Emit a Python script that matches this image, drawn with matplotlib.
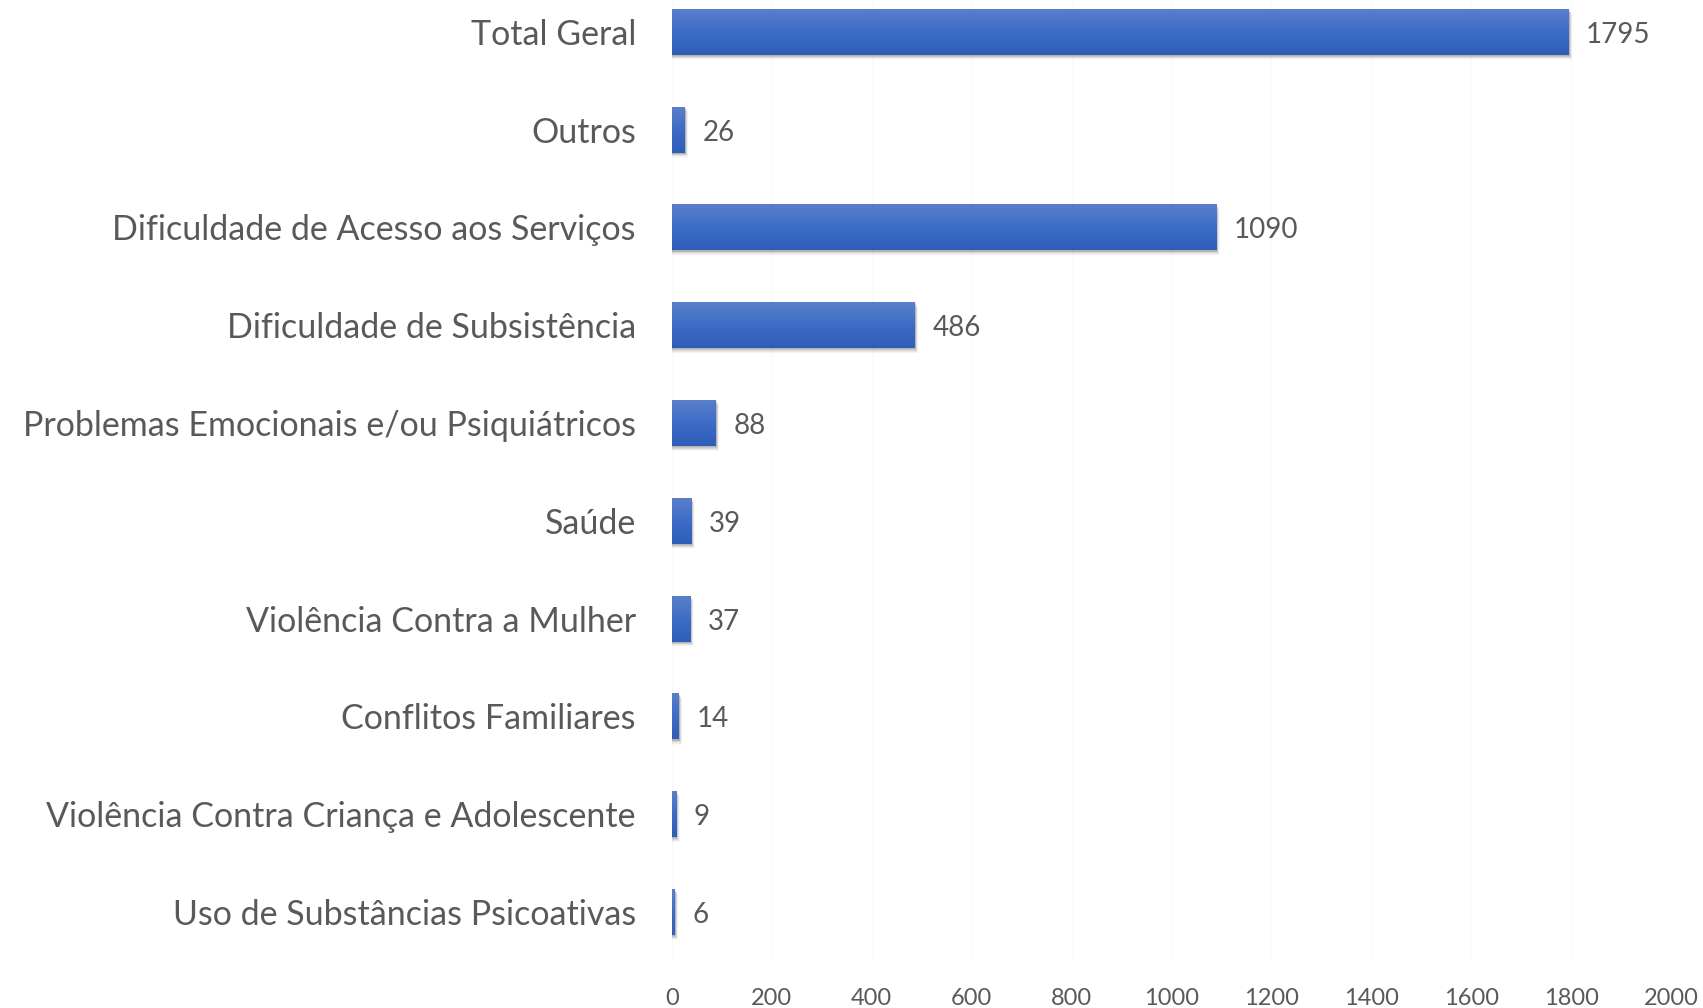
import matplotlib
matplotlib.use("Agg")
import matplotlib.pyplot as plt
import numpy as np
from matplotlib.patches import Rectangle
from matplotlib.colors import LinearSegmentedColormap

categories = [
    "Uso de Substâncias Psicoativas",
    "Violência Contra Criança e Adolescente",
    "Conflitos Familiares",
    "Violência Contra a Mulher",
    "Saúde",
    "Problemas Emocionais e/ou Psiquiátricos",
    "Dificuldade de Subsistência",
    "Dificuldade de Acesso aos Serviços",
    "Outros",
    "Total Geral",
]
values = [6, 9, 14, 37, 39, 88, 486, 1090, 26, 1795]
xticks = [0, 200, 400, 600, 800, 1000, 1200, 1400, 1600, 1800, 2000]

plt.rcParams['font.family'] = ['Lato', 'DejaVu Sans']
text_color = "#595959"

fig = plt.figure(figsize=(17.03, 10.08), dpi=100)
ax = fig.add_axes([672 / 1703, 48 / 1008, (1671 - 672) / 1703, 960 / 1008])

bar_h = 0.47
grad = LinearSegmentedColormap.from_list("g", ["#2E5EB8", "#3D6CC6", "#5A7FCA"])
ys = np.arange(len(categories))

for y, v in zip(ys, values):
    # soft shadow
    for k, a in zip(range(6), [0.10, 0.08, 0.06, 0.045, 0.03, 0.02]):
        off = 0.012 + k * 0.008
        ax.add_patch(Rectangle((0, y - bar_h / 2 - off), v + 2 + k, bar_h,
                               facecolor="black", alpha=a, lw=0, zorder=1))
    rect = Rectangle((0, y - bar_h / 2), v, bar_h, facecolor="#3D6CC6", lw=0, zorder=2)
    ax.add_patch(rect)
    im = ax.imshow(np.linspace(0, 1, 100).reshape(-1, 1), cmap=grad, aspect="auto",
                   extent=(0, v, y + bar_h / 2, y - bar_h / 2), origin="upper", zorder=3)
    im.set_clip_path(rect)
    ax.text(v + 35, y - 0.03, str(v), va="center", ha="left", fontsize=20, color=text_color)

ax.set_xlim(0, 2000)
ax.set_ylim(-0.49, 9.325)
ax.set_xticks(xticks)
ax.set_xticklabels([str(t) for t in xticks], fontsize=17, color=text_color)
ax.set_yticks(ys)
ax.set_yticklabels(categories, fontsize=24.5, color=text_color)
ax.tick_params(axis="y", length=0, pad=26)
ax.tick_params(axis="x", length=0, pad=20)
for s in ax.spines.values():
    s.set_visible(False)
ax.grid(axis="x", color="#F9F9F9", lw=1, zorder=0)
ax.set_axisbelow(True)

fig.savefig("out.png", dpi=100)
